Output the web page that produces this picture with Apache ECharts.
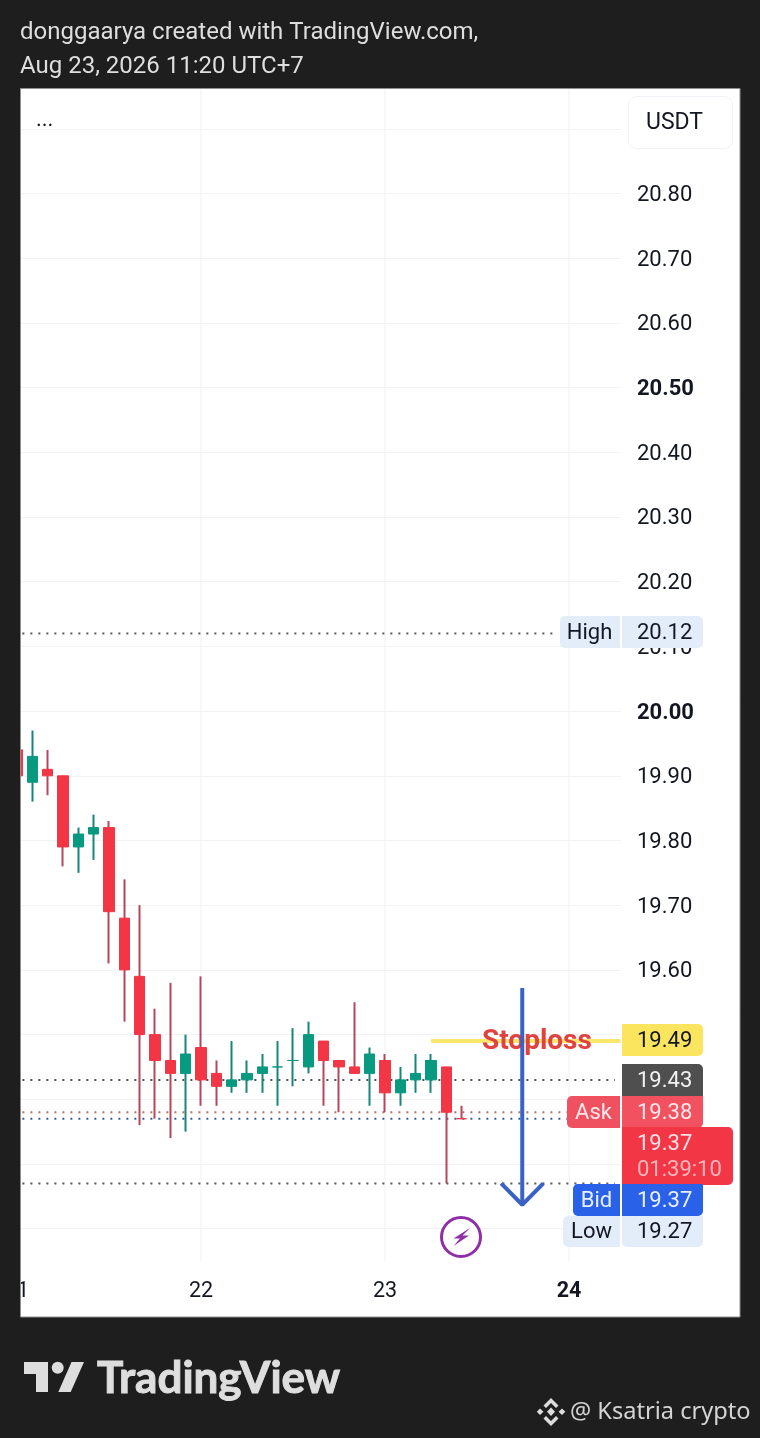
<!DOCTYPE html>
<html>
<head>
<meta charset="utf-8">
<style>html,body{margin:0;padding:0;background:#1e1e1e}#c{width:760px;height:1438px}</style>
<script src="https://cdn.jsdelivr.net/npm/echarts@6/dist/echarts.min.js"></script>
</head>
<body>
<div id="c"></div>
<script>
// Hours relative to Aug 22 00:00, one candle every 2 hours
const hours = [-24,-22,-20,-18,-16,-14,-12,-10,-8,-6,-4,-2,0,2,4,6,8,10,12,14,16,18,20,22,24,26,28,30,32,34];
const opens  = [19.94,19.89,19.91,19.90,19.79,19.81,19.82,19.68,19.59,19.50,19.46,19.44,19.48,19.44,19.42,19.43,19.44,19.45,19.46,19.45,19.49,19.46,19.45,19.44,19.46,19.41,19.43,19.43,19.45,19.37];
const closes = [19.90,19.93,19.90,19.79,19.81,19.82,19.69,19.60,19.50,19.46,19.44,19.47,19.43,19.42,19.43,19.44,19.45,19.45,19.46,19.50,19.46,19.45,19.44,19.47,19.41,19.43,19.44,19.46,19.38,19.37];
const lows   = [19.87,19.86,19.87,19.76,19.75,19.77,19.61,19.52,19.36,19.37,19.34,19.35,19.39,19.39,19.41,19.41,19.41,19.39,19.42,19.44,19.39,19.38,19.44,19.39,19.38,19.39,19.41,19.41,19.27,19.37];
const highs  = [19.96,19.97,19.94,19.90,19.82,19.84,19.83,19.74,19.70,19.54,19.58,19.50,19.59,19.46,19.49,19.46,19.47,19.49,19.51,19.52,19.49,19.46,19.55,19.48,19.47,19.45,19.47,19.47,19.45,19.39];

const dayTicks = [-24,0,24,48];
const dayLabels = ['21','22','23','24'];
const boldDay = '24';
const boldPrices = ['20.50','20.00'];

const priceMin = 19.1, priceMax = 20.9615, priceStep = 0.1;
const hourMin = -24, hourMax = 54.78;
const gridBottomValue = 19.15;

// Dotted reference lines: price, hour the line stops at, colour
const refPrices = [20.12,19.43,19.38,19.37,19.27];
const refEnds   = [46.6,54.0,47.8,47.8,54.0];
const refColors = ['#55585f','#4f5157','#a9756e','#41608f','#55585f'];
const refStart = -23.3;

const stoploss = 19.49, stopFrom = 30, stopTo = 54.7;
const arrowHour = 41.9, arrowTop = 19.572, arrowTip = 19.237, arrowWing = 19.27, arrowSpread = 2.75;

const UP = '#089981', DOWN = '#F23645', UP_WICK = '#17857a', DOWN_WICK = '#b4475a';
const FONT = 'Roboto';
const INK = '#131722';

const wickData = hours.map((h,i)=>[h,opens[i],closes[i],lows[i],highs[i]]);
const bodyData = hours.map((h,i)=>[h,opens[i],closes[i],Math.min(opens[i],closes[i]),Math.max(opens[i],closes[i])]);

function straight(name, pts, color, width, type, z){
  return {name, type:'line', data:pts, showSymbol:false, symbol:'none', silent:true, animation:false, clip:false, z,
    lineStyle:{color, width, type:type||'solid', cap:'butt'}};
}
const series = [];
dayTicks.slice(1).forEach(d=>series.push(straight('day'+d,[[d,priceMax],[d,gridBottomValue]],'#eff1f4',1,'solid',1)));
refPrices.forEach((p,i)=>series.push(straight('ref'+p,[[refStart,p],[refEnds[i],p]],refColors[i],2,[2,6],2)));
series.push({type:'candlestick',name:'wicks',data:wickData,encode:{x:0,y:[1,2,3,4]},barWidth:1,animation:false,silent:true,z:3,
  itemStyle:{color:UP_WICK,color0:DOWN_WICK,borderColor:UP_WICK,borderColor0:DOWN_WICK,borderWidth:2}});
series.push({type:'candlestick',name:'bodies',data:bodyData,encode:{x:0,y:[1,2,3,4]},barWidth:11,animation:false,silent:true,z:4,
  itemStyle:{color:UP,color0:DOWN,borderColor:UP,borderColor0:DOWN,borderWidth:1}});
series.push(straight('stop',[[stopFrom,stoploss],[stopTo,stoploss]],'#FBE66E',4,'solid',5));
series.push(straight('arrowShaft',[[arrowHour,arrowTop],[arrowHour,arrowTip]],'#3A62C6',4,'solid',9));
series.push(straight('arrowHead',[[arrowHour-arrowSpread,arrowWing],[arrowHour,arrowTip],[arrowHour+arrowSpread,arrowWing]],'#3A62C6',4,'solid',9));

function rr(x,y,w,h,fill,r,z){return {type:'rect',z:z||20,silent:true,shape:{x,y,width:w,height:h,r:r||0},style:{fill}};}
function tx(x,y,text,fill,size,opt){opt=opt||{};const st={text,fill,
  font:(opt.weight||'400')+' '+size+'px '+(opt.font||FONT),align:opt.align||'left',verticalAlign:'middle'};
  if(opt.stroke){st.stroke=fill;st.lineWidth=opt.stroke;}
  return {type:'text',z:opt.z||21,silent:true,x,y:y+1.5,style:st};}
function poly(points,fill,z){return {type:'polygon',z:z||21,silent:true,shape:{points},style:{fill}};}

const LIGHT='#e3edf9';
const g = [
  {type:'rect',z:-10,silent:true,shape:{x:20.5,y:88.5,width:719.5,height:1228.5},style:{fill:'#fff',stroke:'#8f8f8f',lineWidth:1}},
  // left clipping strip
  rr(0,80,20,1250,'#1e1e1e',0,30),
  {type:'line',z:31,silent:true,shape:{x1:20.5,y1:88.5,x2:20.5,y2:1317},style:{stroke:'#8f8f8f',lineWidth:1}},
  tx(20,31,'donggaarya created with TradingView.com,','#dedede',24,{z:32}),
  tx(20,65,'Aug 23, 2026 11:20 UTC+7','#dedede',24,{z:32}),
  tx(36,119,'...',INK,22),
  {type:'rect',z:20,silent:true,shape:{x:628.5,y:96.5,width:104,height:52,r:8},style:{fill:'#fff',stroke:'#f0f3fa',lineWidth:1}},
  tx(646,122,'USDT',INK,23),
  // Stoploss
  tx(482,1040,'Stoploss','#E0423F',28,{weight:'700',z:6}),
  // tags
  rr(560,616,60,32,LIGHT,[5,0,0,5]), tx(589.5,632,'High',INK,22,{align:'center'}),
  rr(622,616,81,32,LIGHT,[0,5,5,0]), tx(637,632,'20.12',INK,22),
  rr(622,1024,81,32,'#FBE45E',[0,5,5,0]), tx(637,1040,'19.49',INK,22),
  rr(622,1064,81,33,'#4f4f4f',[0,5,0,0]), tx(637,1080,'19.43','#f2f2f2',22),
  rr(567,1096,53,32,'#EF5160',[5,0,0,5]), tx(593.5,1112,'Ask','#fde8ea',22,{align:'center'}),
  rr(622,1096,81,32,'#F2525F',[0,0,5,0]), tx(637,1112,'19.38','#fde8ea',22),
  rr(622,1127,111,58,'#F23645',[0,5,5,0]), tx(637,1143,'19.37','#fde3e5',22), tx(637,1169,'01:39:10','#fbb5bb',22),
  rr(573,1184,47,32,'#2962E8',[5,0,0,5]), tx(596.5,1200,'Bid','#eaf0ff',22,{align:'center'}),
  rr(622,1184,81,32,'#2962E8',[0,0,5,0]), tx(637,1200,'19.37','#eaf0ff',22),
  rr(563,1216,57,31,LIGHT,[5,0,0,5]), tx(591.5,1231,'Low',INK,22,{align:'center'}),
  rr(622,1216,81,31,LIGHT,[0,0,5,5]), tx(637,1231,'19.27',INK,22),
  // lightning marker
  {type:'circle',z:20,silent:true,shape:{cx:461,cy:1237,r:19.5},style:{fill:'#fff',stroke:'#8E2FA6',lineWidth:3}},
  poly([[470,1228],[453.5,1238.5],[460,1238.5],[453.5,1246],[469,1235.5],[462.5,1235.5]],'#8E2FA6'),
  // TradingView logo
  poly([[24,1362],[48,1362],[48,1392],[36,1392],[36,1374],[24,1374]],'#dedede'),
  {type:'circle',z:21,silent:true,shape:{cx:57.7,cy:1367.7,r:6},style:{fill:'#dedede'}},
  poly([[71.5,1362],[84,1362],[70.7,1392],[58.3,1392]],'#dedede'),
  tx(97,1377,'TradingView','#dedede',44,{font:'Lato',weight:'700',stroke:1}),
  // Binance mark
  poly([[551,1407.5],[555,1411.8],[551,1416],[547,1411.8]],'#dcdcdc'),
  poly([[540,1408.5],[543.5,1411.8],[540,1415],[536.8,1411.8]],'#dcdcdc'),
  poly([[562,1408.5],[565.3,1411.8],[562,1415],[558.6,1411.8]],'#dcdcdc'),
  poly([[551,1398],[558.5,1405.5],[556,1408],[551,1403],[546,1408],[543.5,1405.5]],'#dcdcdc'),
  poly([[551,1426],[558.5,1418.5],[556,1416],[551,1421],[546,1416],[543.5,1418.5]],'#dcdcdc'),
  tx(570,1411,'@ Ksatria crypto','#d4d4d4',23.6,{font:'Noto Sans'})
];

const option = {
  backgroundColor:'#1e1e1e',
  animation:false,
  grid:{left:17,top:89,width:604,height:1204.4,containLabel:false},
  xAxis:{type:'value',min:hourMin,max:hourMax,interval:24,
    axisLine:{show:false},axisTick:{show:false},splitLine:{show:false},
    axisLabel:{show:true,showMaxLabel:false,showMinLabel:true,hideOverlap:false,margin:-13,color:INK,fontFamily:FONT,fontSize:21.5,
      formatter:v=>{const i=dayTicks.indexOf(Math.round(v));if(i<0)return '';const s=dayLabels[i];return s===boldDay?'{b|'+s+'}':s;},
      rich:{b:{fontWeight:'700',fontFamily:FONT,fontSize:21.5,color:INK}}}},
  yAxis:{type:'value',position:'right',min:priceMin,max:priceMax,interval:priceStep,
    axisLine:{show:false},axisTick:{show:false},
    splitLine:{show:true,showMinLine:false,showMaxLine:false,lineStyle:{color:'#f1f2f4',width:1}},
    axisLabel:{show:true,inside:false,margin:16,showMinLabel:false,showMaxLabel:false,color:INK,fontFamily:FONT,fontSize:22,align:'left',padding:[4,0,0,0],
      formatter:v=>{const s=v.toFixed(2);return boldPrices.includes(s)?'{b|'+s+'}':s;},
      rich:{b:{fontWeight:'700',fontFamily:FONT,fontSize:22,color:INK}}}},
  series,
  graphic:{elements:g}
};
const chart = echarts.init(document.getElementById('c'),null,{renderer:'canvas',width:760,height:1438});
chart.setOption(option);
</script>
</body>
</html>
